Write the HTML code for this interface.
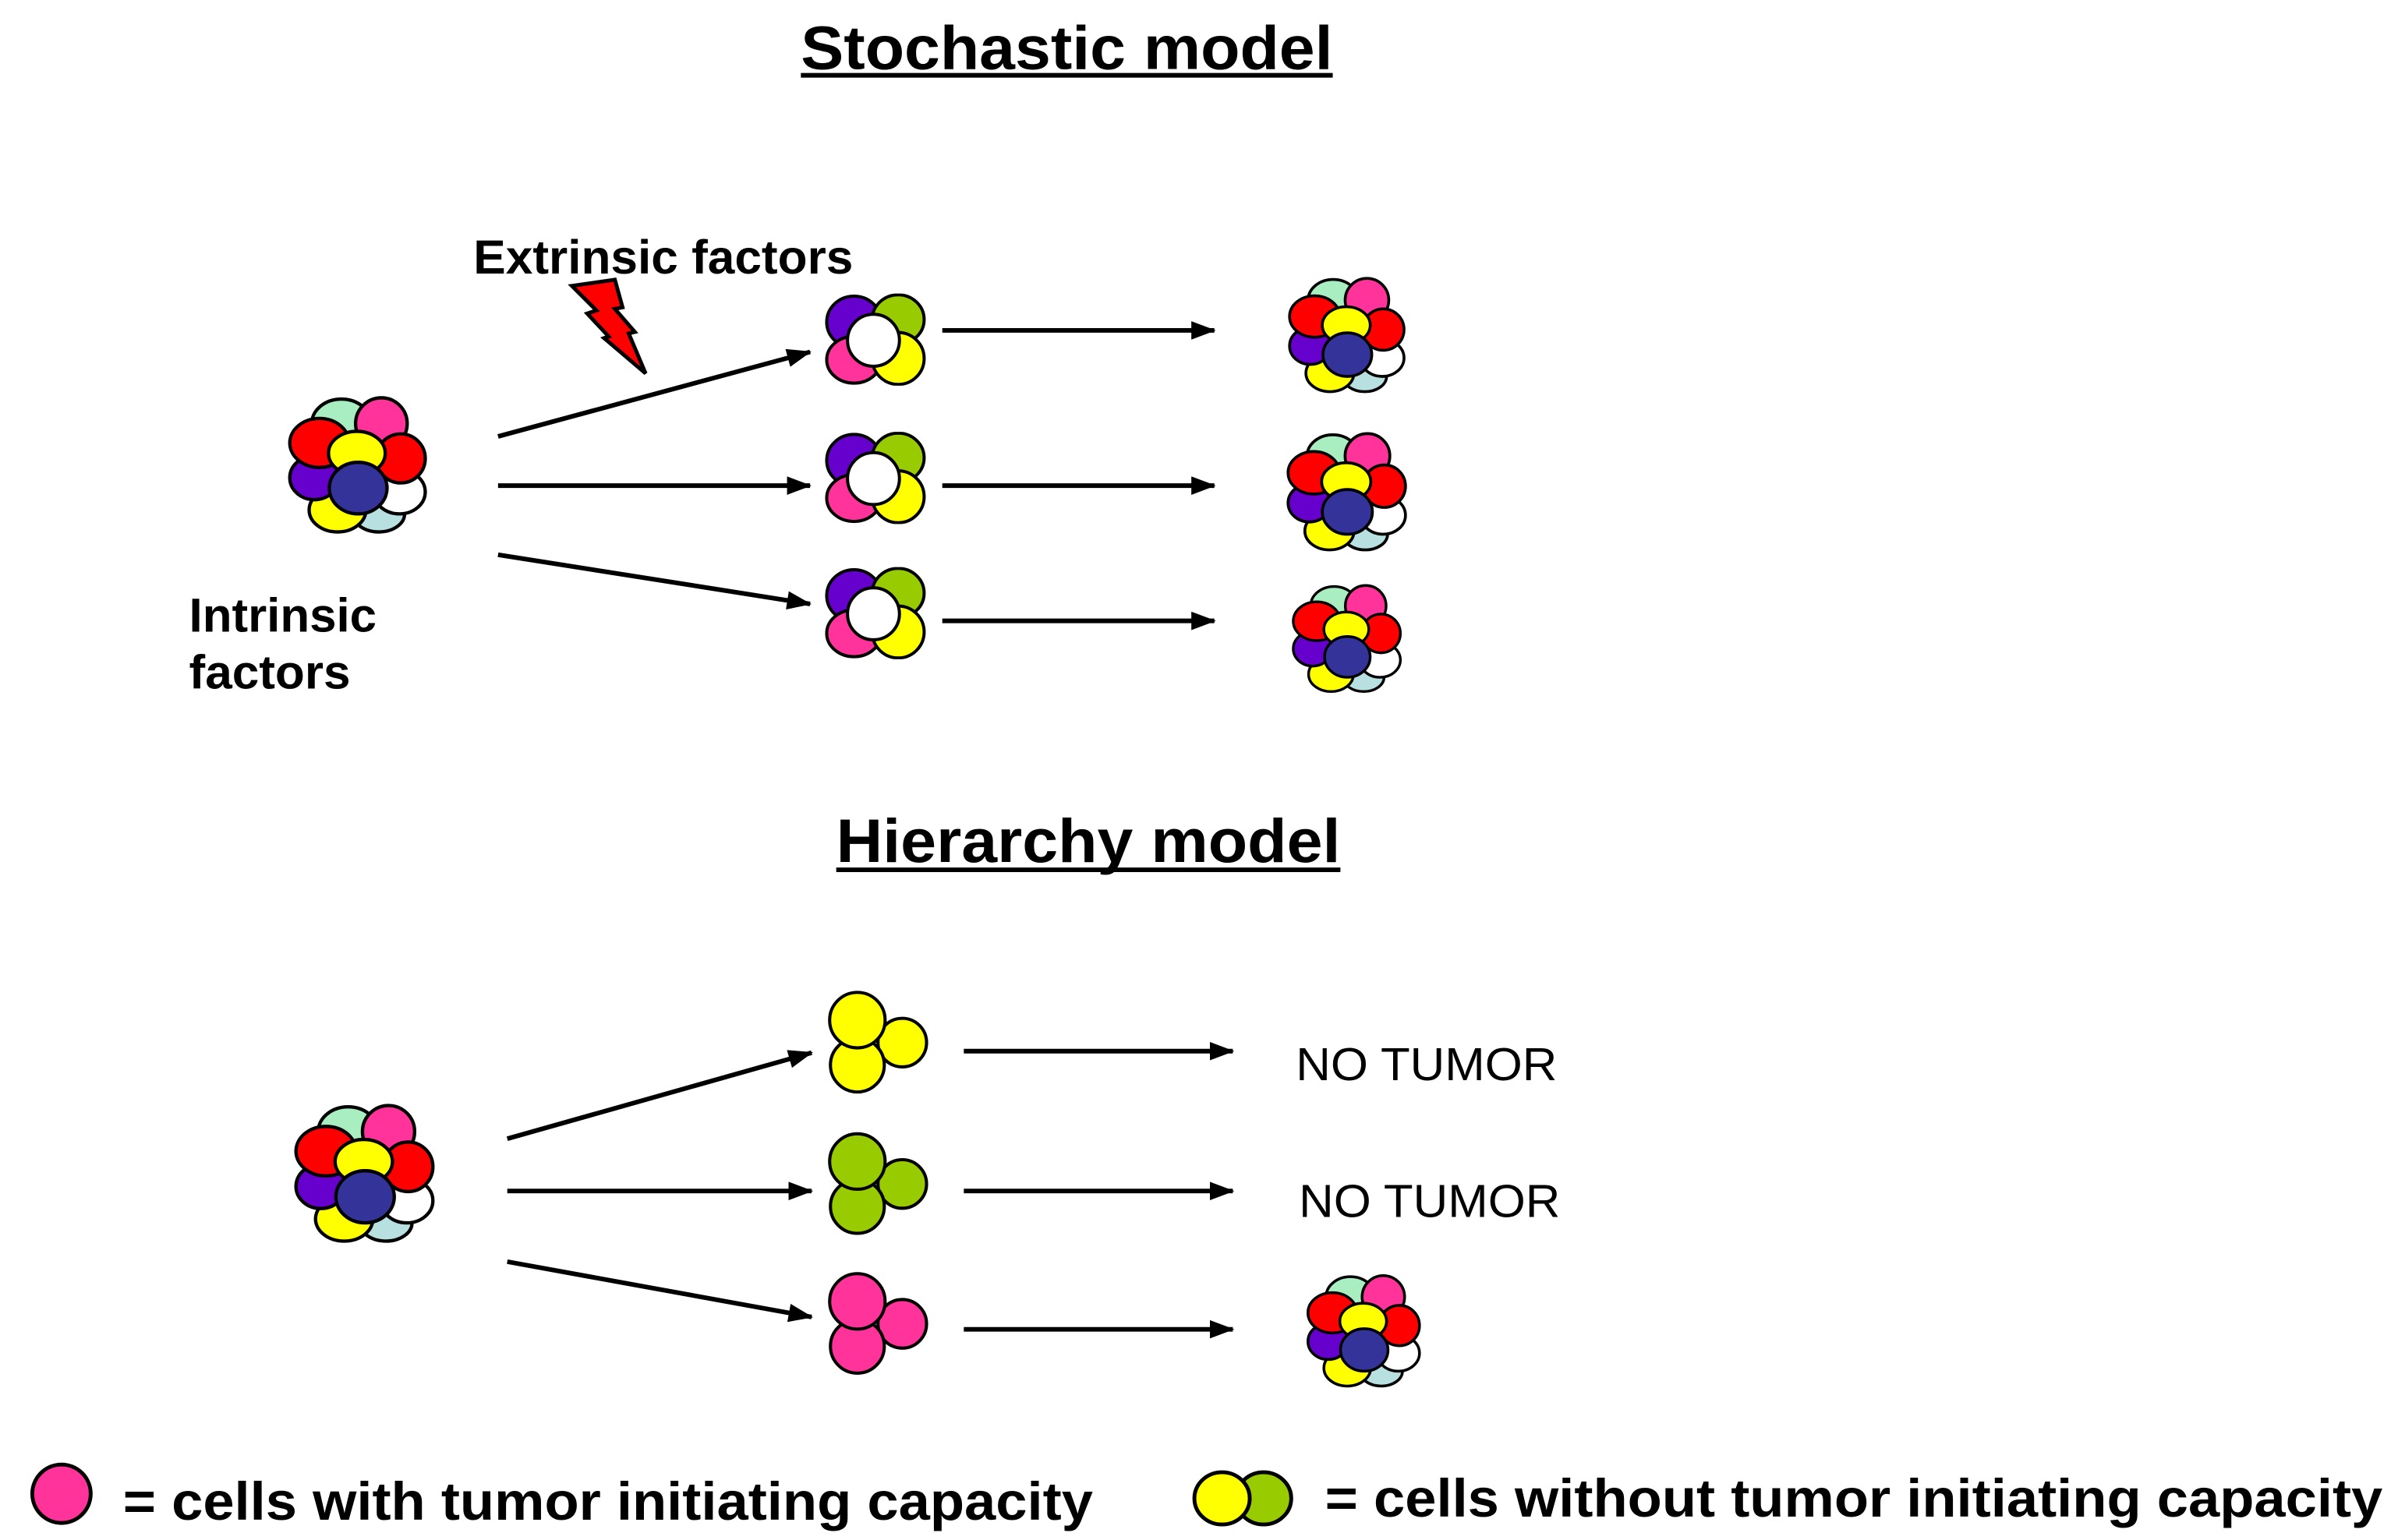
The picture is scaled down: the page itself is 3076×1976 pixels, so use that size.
<!DOCTYPE html>
<html><head><meta charset="utf-8"><style>
html,body{margin:0;padding:0;background:#fff;}
svg{display:block;}
text{font-family:"Liberation Sans",Arial,sans-serif;fill:#000;}
</style></head><body>
<svg width="3076" height="1976" viewBox="0 0 1560 1002.1" preserveAspectRatio="none" xmlns="http://www.w3.org/2000/svg">
<defs>
<marker id="ah" markerWidth="16" markerHeight="12" refX="15" refY="6" orient="auto" markerUnits="userSpaceOnUse">
<path d="M0,0 L16,6 L0,12 Z" fill="#000"/>
</marker>
<symbol id="big" viewBox="70 65 560 550">
<g stroke="#000" stroke-width="13">
<ellipse cx="285" cy="180" rx="115" ry="95" fill="#a8eec0"/>
<ellipse cx="440" cy="180" rx="100" ry="100" fill="#ff3399"/>
<ellipse cx="430" cy="530" rx="100" ry="70" fill="#b8e0e0"/>
<ellipse cx="270" cy="515" rx="110" ry="85" fill="#ffff00"/>
<ellipse cx="510" cy="445" rx="100" ry="85" fill="#ffffff"/>
<ellipse cx="515" cy="315" rx="95" ry="95" fill="#ff0000"/>
<ellipse cx="180" cy="390" rx="95" ry="85" fill="#6600cc"/>
<ellipse cx="200" cy="255" rx="115" ry="95" fill="#ff0000"/>
<ellipse cx="345" cy="295" rx="110" ry="85" fill="#ffff00"/>
<ellipse cx="350" cy="430" rx="112" ry="100" fill="#333399"/>
</g>
</symbol>
<symbol id="four" viewBox="35 45 395 355">
<g stroke="#000" stroke-width="12">
<ellipse cx="150" cy="155" rx="105" ry="100" fill="#6600cc"/>
<ellipse cx="320" cy="145" rx="100" ry="95" fill="#99cc00"/>
<ellipse cx="150" cy="300" rx="105" ry="90" fill="#ff3399"/>
<ellipse cx="320" cy="295" rx="100" ry="100" fill="#ffff00"/>
<circle cx="225" cy="225" r="100" fill="#ffffff"/>
</g>
</symbol>
<symbol id="three" viewBox="30 10 390 395">
<g stroke="#000" stroke-width="12">
<circle cx="315" cy="210" r="92"/>
<circle cx="145" cy="295" r="102"/>
<circle cx="145" cy="125" r="105"/>
</g>
</symbol>
</defs>

<!-- Titles -->
<text x="521" y="45" font-size="40" font-weight="bold" textLength="346" lengthAdjust="spacingAndGlyphs">Stochastic model</text>
<line x1="521" y1="49" x2="867" y2="49" stroke="#000" stroke-width="3"/>
<text x="544" y="561" font-size="40" font-weight="bold" textLength="328" lengthAdjust="spacingAndGlyphs">Hierarchy model</text>
<line x1="544" y1="566" x2="872" y2="566" stroke="#000" stroke-width="3"/>

<text x="308" y="178" font-size="31" font-weight="bold" textLength="247" lengthAdjust="spacingAndGlyphs">Extrinsic factors</text>
<text x="123" y="411" font-size="31" font-weight="bold" textLength="122" lengthAdjust="spacingAndGlyphs">Intrinsic</text>
<text x="123" y="448" font-size="31" font-weight="bold" textLength="105" lengthAdjust="spacingAndGlyphs">factors</text>

<polygon points="372,186 400,182 405,200 400,201 413,216 409,217 420,243 393,220 396,219 382,204 388,202" fill="#ff0000" stroke="#000" stroke-width="2.5"/>

<!-- Stochastic -->
<use href="#big" x="186" y="256" width="94" height="93"/>
<g stroke="#000" stroke-width="3" marker-end="url(#ah)">
<line x1="324" y1="284" x2="527" y2="229"/>
<line x1="324" y1="316" x2="527" y2="316"/>
<line x1="324" y1="361" x2="527" y2="393"/>
<line x1="613" y1="215" x2="790" y2="215"/>
<line x1="613" y1="316" x2="790" y2="316"/>
<line x1="613" y1="404" x2="790" y2="404"/>
</g>
<use href="#four" x="536" y="191" width="67" height="60"/>
<use href="#four" x="536" y="281" width="67" height="60"/>
<use href="#four" x="536" y="369" width="67" height="60"/>
<use href="#big" x="835" y="179" width="83" height="78"/>
<use href="#big" x="835" y="280" width="83" height="80"/>
<use href="#big" x="835" y="379" width="83" height="73"/>

<!-- Hierarchy -->
<use href="#big" x="190" y="715" width="95" height="97"/>
<g stroke="#000" stroke-width="3" marker-end="url(#ah)">
<line x1="330" y1="741" x2="528" y2="685"/>
<line x1="330" y1="775" x2="528" y2="775"/>
<line x1="330" y1="821" x2="528" y2="857"/>
<line x1="627" y1="684" x2="802" y2="684"/>
<line x1="627" y1="775" x2="802" y2="775"/>
<line x1="627" y1="865" x2="802" y2="865"/>
</g>
<use href="#three" x="538" y="644" width="67" height="68" fill="#ffff00"/>
<use href="#three" x="538" y="736" width="67" height="68" fill="#99cc00"/>
<use href="#three" x="538" y="827" width="67" height="68" fill="#ff3399"/>
<text x="843" y="703" font-size="30" textLength="170" lengthAdjust="spacingAndGlyphs">NO TUMOR</text>
<text x="845" y="792" font-size="30" textLength="170" lengthAdjust="spacingAndGlyphs">NO TUMOR</text>
<use href="#big" x="846" y="828" width="83" height="76"/>

<!-- Legend -->
<circle cx="40" cy="972" r="19" fill="#ff3399" stroke="#000" stroke-width="2.5"/>
<text x="80" y="989" font-size="35" font-weight="bold" textLength="631" lengthAdjust="spacingAndGlyphs">= cells with tumor initiating capacity</text>
<ellipse cx="822" cy="975" rx="18" ry="17" fill="#99cc00" stroke="#000" stroke-width="2.5"/>
<ellipse cx="795" cy="975" rx="18" ry="17" fill="#ffff00" stroke="#000" stroke-width="2.5"/>
<text x="862" y="987" font-size="35" font-weight="bold" textLength="688" lengthAdjust="spacingAndGlyphs">= cells without tumor initiating capacity</text>
</svg>
</body></html>
